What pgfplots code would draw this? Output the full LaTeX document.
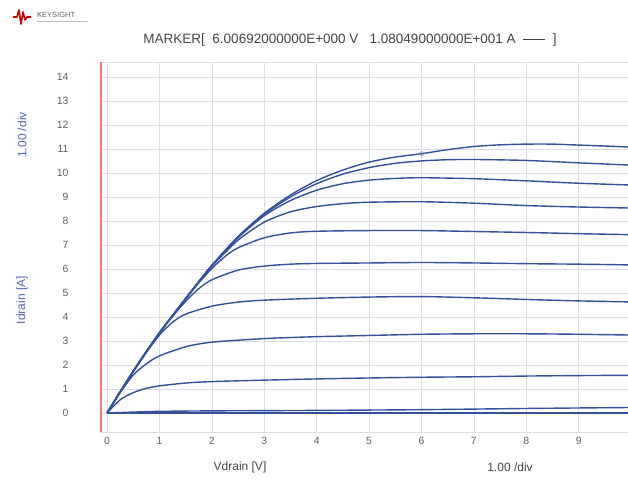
\documentclass[border=0pt]{standalone}
\usepackage{fontspec}
\setmainfont{Liberation Sans}
\usepackage{pgfplots}
\pgfplotsset{compat=1.18}
\definecolor{curvec}{RGB}{50,80,155}
\definecolor{gridc}{RGB}{218,221,228}
\definecolor{tickc}{RGB}{95,95,105}
\definecolor{labc}{RGB}{85,100,170}
\definecolor{redl}{RGB}{240,120,120}
\tikzset{ivc/.style={draw=curvec, solid, line width=1.4pt, smooth, tension=0.45}}
\begin{document}
\begin{tikzpicture}[x=1pt,y=1pt]
\path[use as bounding box] (0,0) rectangle (628,479);
% logo
\draw[red!80!black, line width=1.6pt, line join=round] (13,462) -- (17,462) -- (19,469) -- (21,455) -- (23,467) -- (25,459) -- (27,462) -- (31,462);
\node[anchor=west, inner sep=0pt, text=tickc, font=\fontsize{7.5}{8}\selectfont] at (37,464) {KEYSIGHT};
\draw[gray!50, line width=0.5pt] (37,458) -- (88,458);
% title
\node[text=tickc!70!black, font=\fontsize{13.5}{15}\selectfont] at (350,439) {MARKER[\ \ 6.00692000000E+000 V\ \ \ 1.08049000000E+001 A\ \ \rule[0.6ex]{22pt}{0.5pt}\ \ ]};
% labels
\node[text=tickc!70!black, font=\fontsize{12}{13}\selectfont] at (240,12) {Vdrain [V]};
\node[text=tickc!70!black, font=\fontsize{12}{13}\selectfont] at (510,12) {1.00 /div};
\node[rotate=90, text=labc, font=\fontsize{12}{13}\selectfont] at (22,344) {1.00 /div};
\node[rotate=90, text=labc, font=\fontsize{12}{13}\selectfont] at (22,179) {Idrain [A]};
\begin{axis}[at={(100pt,47pt)}, anchor=south west, scale only axis,
  width=528pt, height=370pt,
  xmin=-0.134, xmax=9.94, ymin=-0.79, ymax=14.62,
  xtick={0,...,9}, ytick={0,...,14},
  grid=major, major grid style={gridc, line width=0.6pt},
  axis line style={gridc}, tick style={draw=none},
  ticklabel style={font=\fontsize{10.5}{11}\selectfont, text=tickc},
  /pgf/number format/assume math mode=true,
  xticklabel style={yshift=-2pt}, yticklabel style={xshift=-28pt}]
\addplot[ivc] coordinates {(0,0) (2,0.0) (5,0.0) (9.94,0.0)};
\addplot[ivc] coordinates {(0,0) (0.5,0.04) (1,0.07) (2,0.09) (4,0.11) (6,0.14) (8,0.19) (9.94,0.23)};
\addplot[ivc] coordinates {(0,0) (0.25,0.55) (0.5,0.85) (0.75,1.03) (1,1.13) (1.5,1.25) (2,1.31) (3,1.37) (4,1.42) (5,1.46) (6,1.49) (7,1.51) (8,1.54) (9,1.56) (9.94,1.57)};
\addplot[ivc] coordinates {(0,0) (0.25,0.85) (0.5,1.58) (0.75,2.05) (1,2.38) (1.5,2.76) (2,2.95) (3,3.1) (4,3.18) (5,3.23) (6,3.28) (7,3.3) (8,3.3) (9,3.28) (9.94,3.25)};
\addplot[ivc] coordinates {(0,0) (0.25,0.87) (0.5,1.72) (0.75,2.52) (1,3.25) (1.25,3.78) (1.5,4.12) (2,4.45) (2.5,4.62) (3,4.7) (4,4.78) (5,4.83) (6,4.85) (7,4.8) (8,4.73) (9,4.67) (9.94,4.63)};
\addplot[ivc] coordinates {(0,0) (0.25,0.88) (0.5,1.74) (0.75,2.55) (1,3.32) (1.25,4.02) (1.5,4.65) (1.75,5.18) (2,5.55) (2.5,5.95) (3,6.12) (3.5,6.2) (4,6.23) (5,6.25) (6,6.27) (7,6.25) (8,6.22) (9,6.2) (9.94,6.17)};
\addplot[ivc] coordinates {(0,0) (0.25,0.88) (0.5,1.74) (0.75,2.56) (1,3.34) (1.25,4.06) (1.5,4.75) (1.75,5.42) (2,6.02) (2.25,6.52) (2.5,6.88) (3,7.3) (3.5,7.5) (4,7.57) (5,7.6) (6,7.6) (7,7.56) (8,7.52) (9,7.47) (9.94,7.43)};
\addplot[ivc] coordinates {(0,0) (0.25,0.88) (0.5,1.74) (0.75,2.56) (1,3.34) (1.25,4.06) (1.5,4.77) (1.75,5.47) (2,6.12) (2.5,7.2) (3,7.95) (3.5,8.38) (4,8.6) (4.5,8.72) (5,8.78) (6,8.8) (7,8.74) (8,8.64) (9,8.58) (9.94,8.54)};
\addplot[ivc] coordinates {(0,0) (0.25,0.88) (0.5,1.74) (0.75,2.56) (1,3.34) (1.25,4.06) (1.5,4.77) (1.75,5.47) (2,6.14) (2.5,7.3) (3,8.22) (3.5,8.85) (4,9.28) (4.5,9.55) (5,9.7) (5.5,9.77) (6,9.8) (7,9.76) (8,9.67) (9,9.57) (9.94,9.5)};
\addplot[ivc] coordinates {(0,0) (0.25,0.88) (0.5,1.74) (0.75,2.56) (1,3.34) (1.25,4.06) (1.5,4.77) (1.75,5.47) (2,6.15) (2.5,7.33) (3,8.28) (3.5,9.0) (4,9.55) (4.5,9.95) (5,10.22) (5.5,10.4) (6,10.5) (6.5,10.55) (7,10.56) (8,10.52) (9,10.42) (9.94,10.33)};
\addplot[ivc] coordinates {(0,0) (0.25,0.88) (0.5,1.74) (0.75,2.56) (1,3.34) (1.25,4.06) (1.5,4.77) (1.75,5.47) (2,6.15) (2.5,7.35) (3,8.32) (3.5,9.08) (4,9.68) (4.5,10.12) (5,10.45) (5.5,10.66) (6,10.8) (6.5,10.97) (7,11.1) (7.5,11.17) (8,11.2) (8.5,11.2) (9,11.16) (9.5,11.12) (9.94,11.08)};
\addplot[only marks, mark=o, mark size=2pt, draw=labc!70, line width=0.6pt] coordinates {(6.00692,10.8049)};
\draw[redl, line width=3pt] (rel axis cs:0,0) -- (rel axis cs:0,1);
\end{axis}
\end{tikzpicture}
\end{document}
